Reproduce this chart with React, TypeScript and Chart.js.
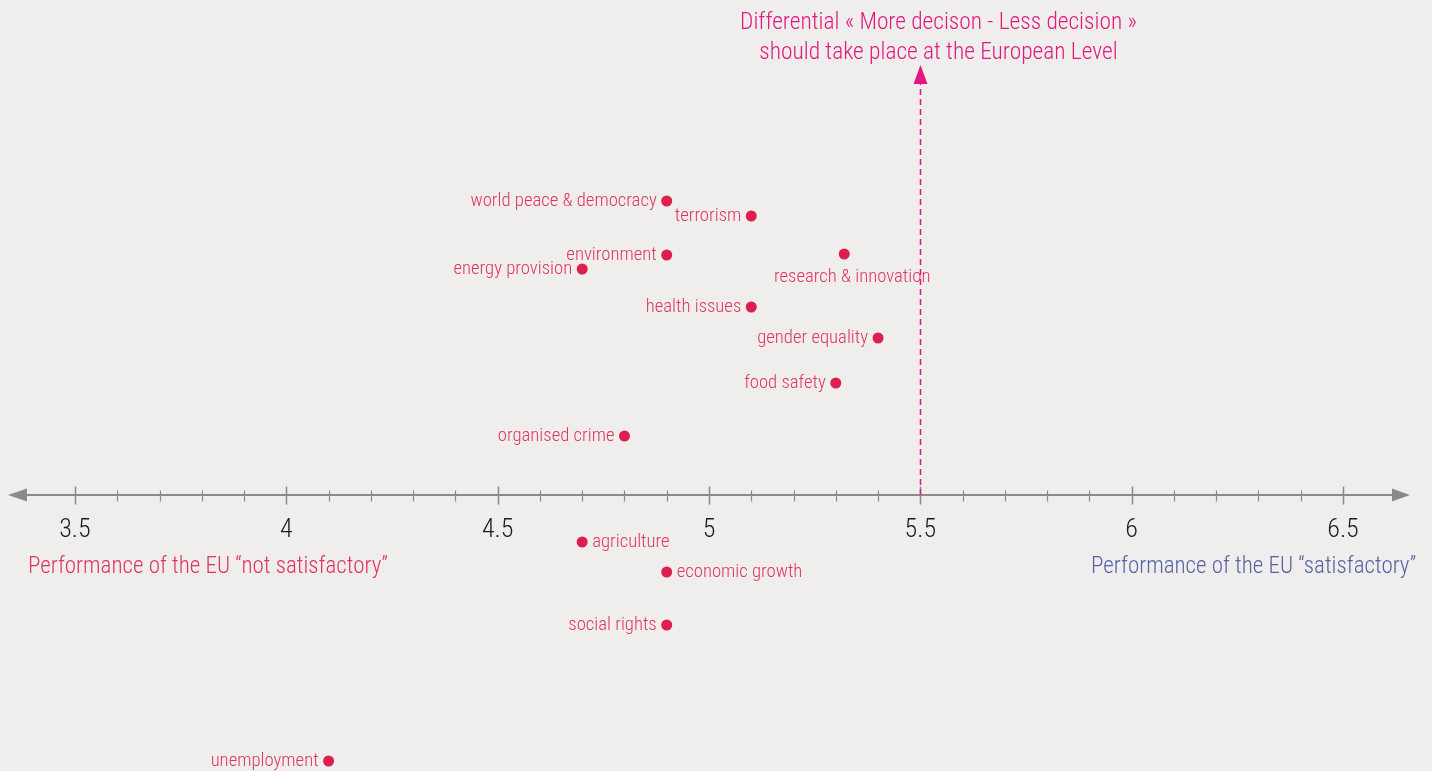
import React, { useEffect, useRef } from "react";
import { Chart, registerables } from "chart.js";

Chart.register(...registerables);

// ---- data ----
const categories = [
  "world peace & democracy",
  "terrorism",
  "environment",
  "energy provision",
  "research & innovation",
  "health issues",
  "gender equality",
  "food safety",
  "organised crime",
  "agriculture",
  "economic growth",
  "social rights",
  "unemployment",
];
// Performance of the EU (x)
const performance = [4.9, 5.1, 4.9, 4.7, 5.32, 5.1, 5.4, 5.3, 4.8, 4.7, 4.9, 4.9, 4.1];
// Differential "more decision - less decision" (y, arbitrary units)
const differential = [2.94, 2.79, 2.4, 2.26, 2.41, 1.88, 1.57, 1.12, 0.59, -0.47, -0.77, -1.3, -2.66];
const majorTicks = [3.5, 4, 4.5, 5, 5.5, 6, 6.5];
const minorTicks = [
  3.6, 3.7, 3.8, 3.9, 4.1, 4.2, 4.3, 4.4, 4.6, 4.7, 4.8, 4.9, 5.1, 5.2, 5.3, 5.4,
  5.6, 5.7, 5.8, 5.9, 6.1, 6.2, 6.3, 6.4,
];
const titleLines = [
  "Differential « More decison - Less decision »",
  "should take place at the European Level",
];
const leftAxisLabel = "Performance of the EU “not satisfactory”";
const rightAxisLabel = "Performance of the EU “satisfactory”";

// label placement per point (style)
const labelSide = [
  "left", "left", "left", "left", "below", "left", "left", "left", "left",
  "right", "right", "left", "left",
];

const FONT = "'Roboto Condensed', 'Liberation Sans Narrow', 'Arial Narrow', sans-serif";
const BG = "#efeeec";
const POINT = "#dc1f4f";
const LABEL = "#e0335f";
const MAGENTA = "#e3177f";
const BLUE = "#5861a8";
const AXIS = "#8a8a8a";

const overlay = {
  id: "overlay",
  beforeDraw(chart: any) {
    const { ctx, width, height } = chart;
    ctx.save();
    ctx.fillStyle = BG;
    ctx.fillRect(0, 0, width, height);
    ctx.restore();
  },
  beforeDatasetsDraw(chart: any) {
    const { ctx } = chart;
    const xs = chart.scales.x;
    const ys = chart.scales.y;
    const y0 = ys.getPixelForValue(0);
    const xl = xs.getPixelForValue(3.3415);
    const xr = xs.getPixelForValue(6.6585);
    ctx.save();
    ctx.strokeStyle = AXIS;
    ctx.fillStyle = AXIS;
    ctx.lineWidth = 2;
    ctx.beginPath();
    ctx.moveTo(xl + 10, y0);
    ctx.lineTo(xr - 10, y0);
    ctx.stroke();
    // arrowheads
    ctx.beginPath();
    ctx.moveTo(xl, y0);
    ctx.lineTo(xl + 19, y0 - 6.5);
    ctx.lineTo(xl + 19, y0 + 6.5);
    ctx.closePath();
    ctx.fill();
    ctx.beginPath();
    ctx.moveTo(xr, y0);
    ctx.lineTo(xr - 18, y0 - 6.5);
    ctx.lineTo(xr - 18, y0 + 6.5);
    ctx.closePath();
    ctx.fill();
    // ticks
    ctx.lineWidth = 1.5;
    majorTicks.forEach((v) => {
      const px = Math.round(xs.getPixelForValue(v)) + 0.5;
      ctx.beginPath();
      ctx.moveTo(px, y0 - 8.5);
      ctx.lineTo(px, y0 + 9.5);
      ctx.stroke();
    });
    ctx.lineWidth = 1.2;
    minorTicks.forEach((v) => {
      const px = Math.round(xs.getPixelForValue(v)) + 0.5;
      ctx.beginPath();
      ctx.moveTo(px, y0 - 4.5);
      ctx.lineTo(px, y0 + 6.5);
      ctx.stroke();
    });
    // tick labels
    ctx.fillStyle = "#1c1c1c";
    ctx.font = `300 26px ${FONT}`;
    ctx.textAlign = "center";
    ctx.textBaseline = "middle";
    majorTicks.forEach((v) => {
      ctx.fillText(String(v), xs.getPixelForValue(v), y0 + 35);
    });
    // axis labels
    ctx.font = `300 23px ${FONT}`;
    ctx.textAlign = "left";
    ctx.fillStyle = LABEL;
    ctx.fillText(leftAxisLabel, xs.getPixelForValue(3.3888), y0 + 72);
    ctx.textAlign = "right";
    ctx.fillStyle = BLUE;
    ctx.fillText(rightAxisLabel, xs.getPixelForValue(6.673), y0 + 72);
    // title
    ctx.font = `300 23.4px ${FONT}`;
    ctx.textAlign = "center";
    ctx.fillStyle = MAGENTA;
    const tx = xs.getPixelForValue(5.543);
    ctx.fillText(titleLines[0], tx, 23);
    ctx.fillText(titleLines[1], tx, 53);
    ctx.restore();
  },
  afterDatasetsDraw(chart: any) {
    const { ctx } = chart;
    const xs = chart.scales.x;
    const ys = chart.scales.y;
    ctx.save();
    ctx.font = `300 18.7px ${FONT}`;
    ctx.fillStyle = LABEL;
    ctx.textBaseline = "middle";
    categories.forEach((name, i) => {
      const px = xs.getPixelForValue(performance[i]);
      const py = ys.getPixelForValue(differential[i]);
      const side = labelSide[i];
      if (side === "left") {
        ctx.textAlign = "right";
        ctx.fillText(name, px - 10, py);
      } else if (side === "right") {
        ctx.textAlign = "left";
        ctx.fillText(name, px + 10, py);
      } else {
        ctx.textAlign = "center";
        ctx.fillText(name, px + 8, py + 23);
      }
    });
    // vertical dashed arrow at 5.5
    const vx = Math.round(xs.getPixelForValue(5.5)) + 0.5;
    const y0 = ys.getPixelForValue(0);
    const ytip = ys.getPixelForValue(4.3);
    ctx.strokeStyle = MAGENTA;
    ctx.fillStyle = MAGENTA;
    ctx.lineWidth = 1.5;
    ctx.setLineDash([6, 4]);
    ctx.beginPath();
    ctx.moveTo(vx, y0);
    ctx.lineTo(vx, ytip + 18);
    ctx.stroke();
    ctx.setLineDash([]);
    ctx.beginPath();
    ctx.moveTo(vx, ytip);
    ctx.lineTo(vx - 7, ytip + 19);
    ctx.lineTo(vx + 7, ytip + 19);
    ctx.closePath();
    ctx.fill();
    ctx.restore();
  },
};

export default function App() {
  const ref = useRef<HTMLCanvasElement | null>(null);
  useEffect(() => {
    document.body.style.margin = "0";
    document.body.style.background = BG;
    if (!ref.current) return;
    const chart = new Chart(ref.current, {
      type: "scatter",
      data: {
        datasets: [
          {
            data: performance.map((x, i) => ({ x, y: differential[i] })),
            backgroundColor: POINT,
            borderColor: POINT,
            pointRadius: 5.5,
            pointHoverRadius: 5.5,
            borderWidth: 0,
            clip: false,
          },
        ],
      },
      options: {
        animation: false,
        responsive: false,
        devicePixelRatio: 1,
        layout: { padding: 0, autoPadding: false },
        plugins: {
          legend: { display: false },
          tooltip: { enabled: false },
          title: { display: false },
        },
        events: [],
        scales: {
          x: { type: "linear", min: 3.3226, max: 6.7106, display: false },
          y: { type: "linear", min: -2.76, max: 4.95, display: false },
        },
      },
      plugins: [overlay],
    });
    return () => chart.destroy();
  }, []);
  return (
    <div style={{ position: "absolute", left: 0, top: 0, width: 1432, height: 771, background: BG }}>
      <canvas ref={ref} width={1432} height={771} style={{ display: "block" }} />
    </div>
  );
}
